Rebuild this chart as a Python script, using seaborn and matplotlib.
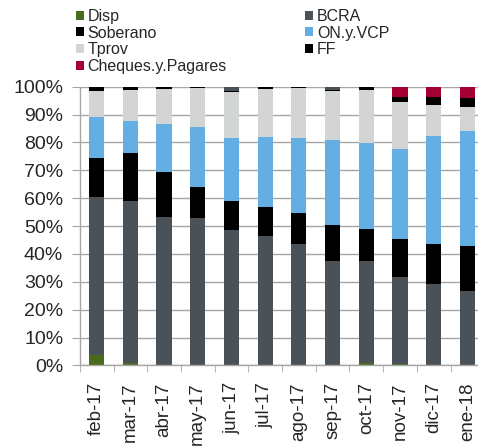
"""
plot.py

Stacked 100% bar chart of portfolio composition by month (feb-17 .. ene-18).
"""

import numpy as np
import pandas as pd
import matplotlib
matplotlib.use("Agg")
import matplotlib.pyplot as plt
from matplotlib.patches import Rectangle
from matplotlib.ticker import FixedLocator, FuncFormatter
import seaborn as sns

# Data (share of total, %)
months = ["feb-17", "mar-17", "abr-17", "may-17", "jun-17", "jul-17",
          "ago-17", "sep-17", "oct-17", "nov-17", "dic-17", "ene-18"]
disp = [3.8, 0.8, 0.0, 0.0, 0.0, 0.0, 0.0, 0.0, 0.8, 0.6, 0.0, 0.0]
bcra = [56.5, 58.2, 53.4, 52.8, 48.6, 46.5, 43.7, 37.4, 36.7, 31.3, 29.2, 26.8]
soberano = [14.3, 17.3, 16.1, 11.1, 10.5, 10.3, 11.0, 12.9, 11.6, 13.6, 14.4, 15.9]
on_vcp = [14.6, 11.4, 17.2, 21.6, 22.6, 25.3, 26.9, 30.6, 30.6, 32.0, 38.8, 41.4]
tprov = [9.4, 11.3, 12.5, 14.0, 16.3, 17.2, 17.8, 17.4, 19.0, 16.9, 11.1, 8.7]
ff = [1.4, 1.0, 0.8, 0.5, 0.5, 0.7, 0.6, 0.5, 1.3, 2.0, 2.8, 3.1]
otros = [0.0, 0.0, 0.0, 0.0, 1.5, 0.0, 0.0, 1.2, 0.0, 0.0, 0.0, 0.0]
cheques = [0.0, 0.0, 0.0, 0.0, 0.0, 0.0, 0.0, 0.0, 0.0, 3.6, 3.7, 4.1]

# series from bottom to top: (name, values, colour, in legend)
series = [
    ("Disp", disp, "#4A6B1E", True),
    ("BCRA", bcra, "#4A5157", True),
    ("Soberano", soberano, "#000000", True),
    ("ON.y.VCP", on_vcp, "#63AFE3", True),
    ("Tprov", tprov, "#D3D4D4", True),
    ("FF", ff, "#000000", True),
    ("Otros", otros, "#4A5157", False),
    ("Cheques.y.Pagares", cheques, "#A50034", True),
]

sns.set_style("white")
plt.rcParams["font.family"] = ["Liberation Sans", "DejaVu Sans"]

fig = plt.figure(figsize=(4.78, 4.46), dpi=100)
ax = fig.add_axes([0.167, 0.1805, 0.846, 0.625])

# Draw cumulative totals from top to bottom so each layer covers the next
cum = np.cumsum([np.array(s[1]) for s in series], axis=0)
for i in range(len(series) - 1, -1, -1):
    df = pd.DataFrame({"month": months, "value": cum[i]})
    sns.barplot(data=df, x="month", y="value", order=months, color=series[i][2],
                saturation=1, width=0.45, linewidth=0, ax=ax)

grid_color = "#A6A6A6"
ax.set_ylim(0, 100)
ax.set_xlim(-0.5, len(months) - 0.5)
ax.yaxis.set_major_locator(FixedLocator(np.arange(0, 101, 10)))
ax.yaxis.set_major_formatter(FuncFormatter(lambda v, _: f"{v:.0f}%"))
ax.grid(axis="y", color=grid_color, linewidth=1.0)
ax.set_axisbelow(True)
ax.set_xlabel("")
ax.set_ylabel("")

for side in ["top", "right"]:
    ax.spines[side].set_visible(False)
for side in ["left", "bottom"]:
    ax.spines[side].set_color(grid_color)
    ax.spines[side].set_linewidth(1.0)

ax.tick_params(axis="y", labelsize=14, length=5.5, color=grid_color, pad=6.5, left=True)
ax.tick_params(axis="x", which="major", labelsize=13.5, length=0, pad=12, rotation=90)
ax.xaxis.set_minor_locator(FixedLocator(np.arange(-0.5, len(months), 1.0)))
ax.tick_params(axis="x", which="minor", length=5, color=grid_color, bottom=True)

# Legend: two columns, filled column-wise
legend_order = ["Disp", "Soberano", "Tprov", "Cheques.y.Pagares", "BCRA", "ON.y.VCP", "FF"]
colors = {name: col for name, _, col, show in series if show}
handles = [Rectangle((0, 0), 1, 1, facecolor=colors[n], edgecolor="none") for n in legend_order]
fig.legend(handles, legend_order, loc="upper left", bbox_to_anchor=(0.135, 1.005),
           ncol=2, frameon=False, fontsize=11.5, handlelength=0.5, handleheight=0.5,
           handletextpad=0.25, labelspacing=0.1, columnspacing=4.9, borderpad=0.2)

fig.savefig("out.png", dpi=100)
plt.close(fig)
